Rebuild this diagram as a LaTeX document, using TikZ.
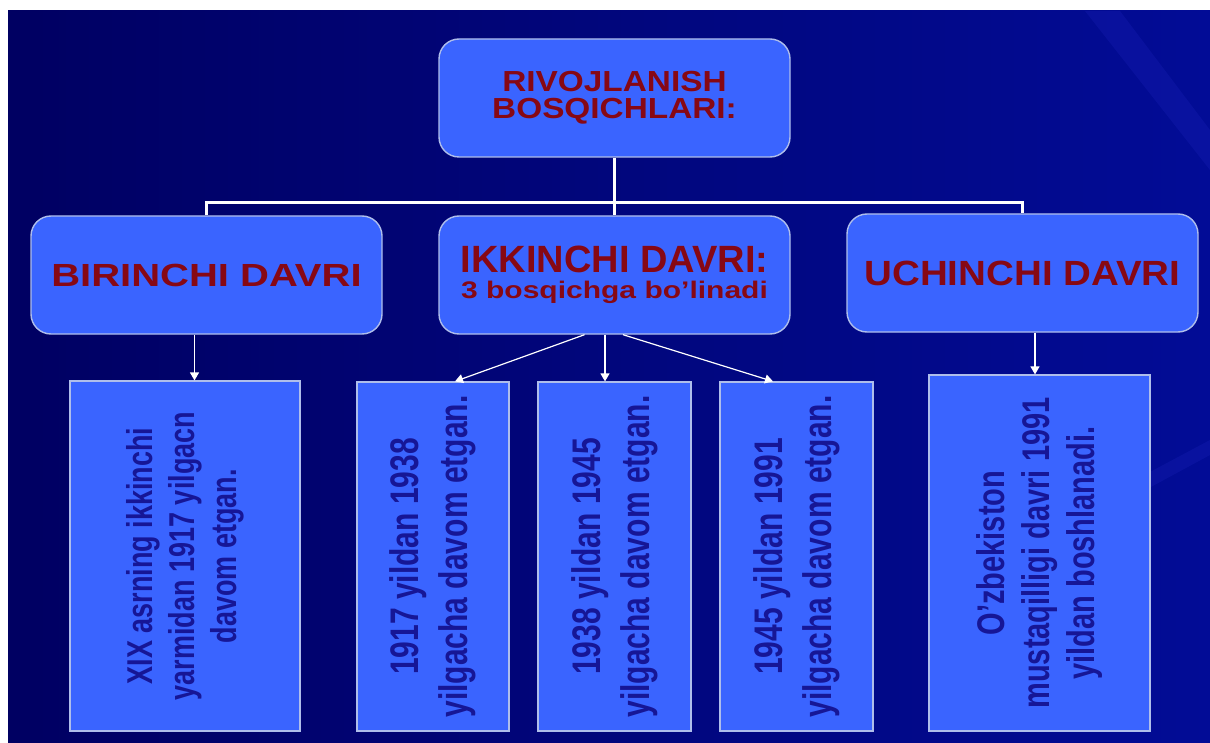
\documentclass[tikz,border=0pt]{standalone}
\usepackage{fontspec}
\setmainfont{Liberation Sans}
\usepackage{graphicx}
\usetikzlibrary{arrows.meta}

\definecolor{navyleft}{RGB}{0,0,98}
\definecolor{navyright}{RGB}{2,12,150}
\definecolor{boxblue}{RGB}{58,100,255}
\definecolor{boxedge}{RGB}{175,190,235}
\definecolor{headred}{RGB}{135,8,20}
\definecolor{textblue}{RGB}{22,22,150}

\newcommand\widen[2]{\scalebox{#1}[1]{#2}}
\newcommand\textlines[2]{\vbox{\baselineskip=#1\lineskiplimit=-\maxdimen\halign{\hfil##\hfil\cr#2\crcr}}}
\newcommand\sidetext[3]{\rotatebox{90}{\scalebox{1}[1.33]{\fontsize{#1}{#1}\selectfont\textlines{#2}{#3}}}}

\begin{document}
\begin{tikzpicture}[x=1pt, y=-1pt,
head/.style={draw=boxedge, line width=1.4pt, fill=boxblue, rounded corners=20pt,
  minimum width=351pt, minimum height=118pt, inner sep=0pt, text=headred, font=\bfseries},
period/.style={draw=boxedge, line width=1.2pt, fill=boxblue, inner sep=0pt,
  text=textblue, font=\bfseries},
tree/.style={white, line width=3pt},
arrow/.style={white, line width=1.2pt, -{Triangle[length=8pt,width=9pt]}}]

\useasboundingbox (0,0) rectangle (1210,743);
\fill[white] (0,0) rectangle (1210,743);

% BACKGROUND
\shade[left color=navyleft, right color=navyright] (8,11) rectangle (1210,743);
\fill[blue!70!white, opacity=0.10] (1085,11) -- (1120,11) -- (1210,130) -- (1210,170) -- cycle;
\fill[blue!70!white, opacity=0.10] (1060,520) -- (1210,440) -- (1210,455) -- (1075,528) -- cycle;

% top level
\node[head] (root) at (614.5,98)
  {\widen{1.15}{\fontsize{29}{29}\selectfont\textlines{27pt}{RIVOJLANISH\cr BOSQICHLARI:}}};

% periods
\node[head] (first) at (206.5,275) {\widen{1.25}{\fontsize{32}{32}\selectfont BIRINCHI DAVRI}};
\node[head] (second) at (614.5,275)
  {\textlines{26pt}{\widen{1.0}{\fontsize{38}{38}\selectfont IKKINCHI DAVRI:}\cr
   \widen{1.25}{\fontsize{24}{24}\selectfont 3 bosqichga bo’linadi}}};
\node[head] (third) at (1022.5,273) {\widen{1.1}{\fontsize{35}{35}\selectfont UCHINCHI DAVRI}};

% stages
\node[period, minimum width=230pt, minimum height=350pt] (p1) at (185,556)
  {\sidetext{27pt}{31.5pt}{XIX asrning ikkinchi\cr yarmidan 1917 yilgacn\cr davom etgan.}};
\node[period, minimum width=152pt, minimum height=349pt] (p2) at (433,556.5)
  {\sidetext{30pt}{37pt}{1917 yildan 1938\cr yilgacha davom etgan.}};
\node[period, minimum width=153pt, minimum height=349pt] (p3) at (614.5,556.5)
  {\sidetext{30pt}{37pt}{1938 yildan 1945\cr yilgacha davom etgan.}};
\node[period, minimum width=153pt, minimum height=349pt] (p4) at (796.5,556.5)
  {\sidetext{30pt}{37pt}{1945 yildan 1991\cr yilgacha davom etgan.}};
\node[period, minimum width=221pt, minimum height=356pt] (p5) at (1039.5,553)
  {\sidetext{29pt}{34pt}{O’zbekiston\cr mustaqilligi davri 1991\cr yildan boshlanadi.}};

% tree lines
\coordinate (bar) at (614.5,203);
\draw[tree] (root) -- (second);
\draw[tree] (first.north) |- (bar) -| (third.north);

% arrows
\draw[arrow] ([xshift=-12pt]first.south) -- ([xshift=-12pt]first.south |- p1.north);
\draw[arrow] ([xshift=-30pt]second.south) -- ([xshift=22pt]p2.north);
\draw[arrow] ([xshift=-9.5pt]second.south) -- ([xshift=-9.5pt]second.south |- p3.north);
\draw[arrow] ([xshift=8.5pt]second.south) -- ([xshift=-23.5pt]p4.north);
\draw[arrow] ([xshift=12.5pt]third.south) -- ([xshift=12.5pt]third.south |- p5.north);

\end{tikzpicture}
\end{document}
